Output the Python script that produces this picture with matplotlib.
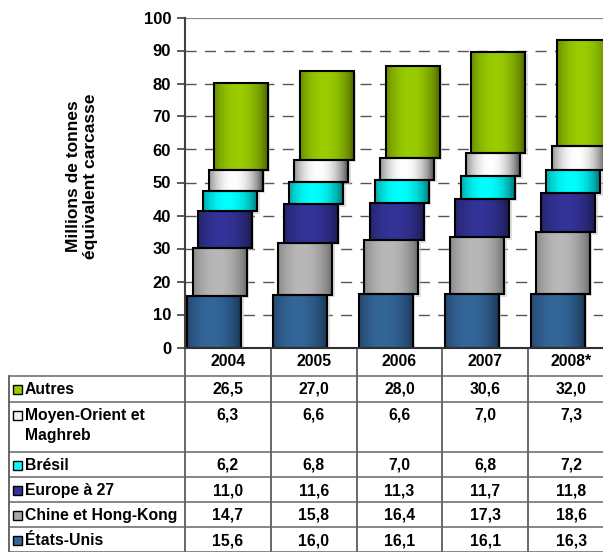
import numpy as np
import matplotlib
matplotlib.use("Agg")
import matplotlib.pyplot as plt
from matplotlib.colors import to_rgb
from matplotlib.patches import Rectangle

plt.rcParams["font.family"] = ["Liberation Sans", "DejaVu Sans"]
plt.rcParams["font.weight"] = "bold"

years = ["2004", "2005", "2006", "2007", "2008*"]

# stacked from bottom to top
etats_unis = [15.6, 16.0, 16.1, 16.1, 16.3]
chine = [14.7, 15.8, 16.4, 17.3, 18.6]
europe = [11.0, 11.6, 11.3, 11.7, 11.8]
bresil = [6.2, 6.8, 7.0, 6.8, 7.2]
moyen_orient = [6.3, 6.6, 6.6, 7.0, 7.3]
autres = [26.5, 27.0, 28.0, 30.6, 32.0]

series = [etats_unis, chine, europe, bresil, moyen_orient, autres]
names = ["États-Unis", "Chine et Hong-Kong", "Europe à 27", "Brésil",
         "Moyen-Orient et\nMaghreb", "Autres"]
# (centre colour, edge colour) for the cylinder shading
shades = [("#336699", "#1a3350"), ("#b8b8b8", "#6a6a6a"), ("#333399", "#1a1a4d"),
          ("#00ffff", "#007070"), ("#ffffff", "#4a4a4a"), ("#99cc00", "#4a6200")]
keys = ["#336699", "#a8a8a8", "#333399", "#00ffff", "#f2f2f2", "#99cc00"]

W, H = 603, 552
fig = plt.figure(figsize=(W / 100, H / 100), dpi=100)

# plot area in pixels
x_left, col_w = 185.0, 85.8
y_top, y_bot = 17.5, 347.5
ncol = len(years)
ax = fig.add_axes([x_left / W, (H - y_bot) / H, ncol * col_w / W, (y_bot - y_top) / H])

bar_w = 54 / col_w
first_off = 2.3 / col_w
step = 5.33 / col_w
fs = 11.3


def shade(c_mid, c_edge, n=64):
    t = np.linspace(0, 1, n)
    w = np.clip(1 - ((t - 0.45) / 0.55) ** 2, 0, 1) ** 0.8
    a, b = np.array(to_rgb(c_mid)), np.array(to_rgb(c_edge))
    return (b[None, :] * (1 - w[:, None]) + a[None, :] * w[:, None])[None, :, :]


bottoms = np.zeros(ncol)
for k, vals in enumerate(series):
    grad = shade(*shades[k])
    for i, v in enumerate(vals):
        x0 = i - 0.5 + first_off + step * k
        y0 = bottoms[i]
        # soft drop shadow
        ax.add_patch(Rectangle((x0 + 2.5 / col_w, y0 - 0.7), bar_w, v, facecolor="#c8c8c8",
                               edgecolor="none", alpha=0.6, zorder=2))
        ax.imshow(grad, extent=(x0, x0 + bar_w, y0, y0 + v), aspect="auto",
                  interpolation="bilinear", zorder=3)
        ax.add_patch(Rectangle((x0, y0), bar_w, v, facecolor="none", edgecolor="black",
                               linewidth=1.5, zorder=4))
    bottoms += np.array(vals)

ax.set_xlim(-0.5, ncol - 0.5)
ax.set_ylim(0, 100)
ax.set_yticks(range(0, 101, 10))
ax.set_xticks([])
for yv in range(10, 100, 10):
    ax.axhline(yv, color="#555555", linewidth=1, dashes=(8, 6), zorder=1)
ax.axhline(100, color="#888888", linewidth=1.6, zorder=1)
for s in ["top", "right", "bottom"]:
    ax.spines[s].set_visible(False)
ax.spines["left"].set_color("#404040")
ax.spines["left"].set_linewidth(1.5)
ax.tick_params(axis="y", length=6, width=1.2, color="#404040", labelsize=12, pad=4)
for lab in ax.get_yticklabels():
    lab.set_fontweight("bold")

fig.text(82 / W, 1 - 176 / H, "Millions de tonnes\néquivalent carcasse", rotation=90,
         ha="center", va="center", fontsize=12.5, fontweight="bold", linespacing=1.2)

# data table under the chart, drawn in pixel coordinates
tb = fig.add_axes([0, 0, 1, 1], zorder=5)
tb.set_xlim(0, W)
tb.set_ylim(H, 0)
tb.axis("off")

x_cols = [x_left + col_w * i for i in range(ncol + 1)]
row_lines = [376, 402, 452, 477, 502, 527, 552]
header_y = 361

tb.plot([x_left, W], [y_bot, y_bot], color="#303030", linewidth=1.5)
for xc in x_cols:
    tb.plot([xc, xc], [y_bot, H], color="#404040", linewidth=1.1)
tb.plot([9, 9], [row_lines[0], H], color="#404040", linewidth=1.1)
for yl in row_lines:
    tb.plot([9, W], [yl, yl], color="#666666", linewidth=1.1)

for i, yr in enumerate(years):
    tb.text(x_cols[i] + col_w / 2, header_y, yr, ha="center", va="center",
            fontsize=fs, fontweight="bold")

# rows listed top to bottom: Autres first
for r, k in enumerate(range(len(series) - 1, -1, -1)):
    top = row_lines[r]
    yline = top + 13.5
    tb.add_patch(Rectangle((12.5, yline - 4.5), 9, 9, facecolor=keys[k],
                           edgecolor="black", linewidth=1))
    tb.text(25, yline, names[k].split("\n")[0], ha="left", va="center",
            fontsize=fs, fontweight="bold")
    if "\n" in names[k]:
        tb.text(25, yline + 20, names[k].split("\n")[1], ha="left", va="center",
                fontsize=fs, fontweight="bold")
    for i, v in enumerate(series[k]):
        tb.text(x_cols[i] + col_w / 2, yline, f"{v:.1f}".replace(".", ","),
                ha="center", va="center", fontsize=fs, fontweight="bold")

fig.savefig("out.png", dpi=100)
